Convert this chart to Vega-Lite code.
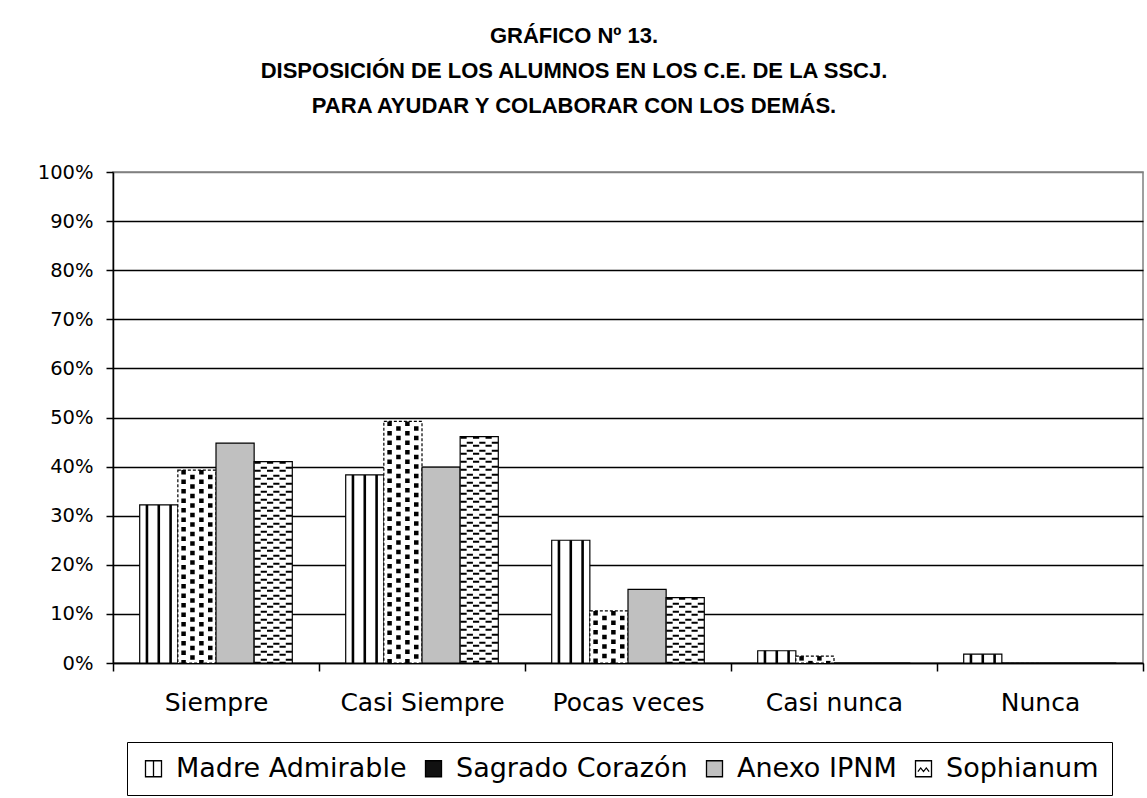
{
  "$schema": "https://vega.github.io/schema/vega-lite/v6.json",
  "autosize": {"type": "none"},
  "padding": {"left": 113, "top": 172, "right": 4, "bottom": 135},
  "width": 1030,
  "height": 491,
  "background": "white",
  "title": {
    "text": ["GRÁFICO Nº 13.", "DISPOSICIÓN DE LOS ALUMNOS EN LOS C.E. DE LA SSCJ.", "PARA AYUDAR Y COLABORAR CON LOS DEMÁS."],
    "font": "Liberation Sans", "fontSize": 22, "fontWeight": "bold", "color": "black",
    "lineHeight": 35, "anchor": "middle", "frame": "group", "dx": -54, "offset": 44
  },
  "data": {"values": [
    {"cat": "Siempre", "series": "Madre Admirable", "value": 32.2},
    {"cat": "Siempre", "series": "Sagrado Corazón", "value": 39.3},
    {"cat": "Siempre", "series": "Anexo IPNM", "value": 44.8},
    {"cat": "Siempre", "series": "Sophianum", "value": 41.0},
    {"cat": "Casi Siempre", "series": "Madre Admirable", "value": 38.3},
    {"cat": "Casi Siempre", "series": "Sagrado Corazón", "value": 49.2},
    {"cat": "Casi Siempre", "series": "Anexo IPNM", "value": 39.9},
    {"cat": "Casi Siempre", "series": "Sophianum", "value": 46.1},
    {"cat": "Pocas veces", "series": "Madre Admirable", "value": 25.0},
    {"cat": "Pocas veces", "series": "Sagrado Corazón", "value": 10.6},
    {"cat": "Pocas veces", "series": "Anexo IPNM", "value": 15.0},
    {"cat": "Pocas veces", "series": "Sophianum", "value": 13.3},
    {"cat": "Casi nunca", "series": "Madre Admirable", "value": 2.5},
    {"cat": "Casi nunca", "series": "Sagrado Corazón", "value": 1.4},
    {"cat": "Casi nunca", "series": "Anexo IPNM", "value": 0},
    {"cat": "Casi nunca", "series": "Sophianum", "value": 0},
    {"cat": "Nunca", "series": "Madre Admirable", "value": 1.8},
    {"cat": "Nunca", "series": "Sagrado Corazón", "value": 0},
    {"cat": "Nunca", "series": "Anexo IPNM", "value": 0},
    {"cat": "Nunca", "series": "Sophianum", "value": 0}
  ]},
  "encoding": {
    "y": {"field": "value", "type": "quantitative", "scale": {"domain": [0, 100], "nice": false},
      "axis": {"title": null, "values": [0, 10, 20, 30, 40, 50, 60, 70, 80, 90, 100], "labelExpr": "datum.value + '%'",
        "tickSize": 7, "labelPadding": 13, "labelFontSize": 19.5, "grid": true,
        "gridColor": {"condition": {"test": "datum.value === 100", "value": "#808080"}, "value": "#000000"}, "gridWidth": 1.5}}
  },
  "layer": [
    {
      "mark": {"type": "bar", "stroke": "black", "strokeWidth": 1.2},
      "encoding": {
        "x": {"field": "cat", "type": "nominal", "sort": ["Siempre", "Casi Siempre", "Pocas veces", "Casi nunca", "Nunca"],
          "scale": {"paddingInner": 0, "paddingOuter": 0},
          "axis": {"title": null, "labelAngle": 0, "tickBand": "extent", "tickSize": 8, "labelPadding": 19, "labelFontSize": 25, "grid": false}},
        "xOffset": {"field": "series", "type": "nominal", "scale": {"domain": ["Madre Admirable", "Sagrado Corazón", "Anexo IPNM", "Sophianum"], "paddingInner": 0, "paddingOuter": 0.7}},
        "fill": {"condition": {"test": "datum.series === 'Anexo IPNM'", "value": "#c0c0c0"}, "value": "#ffffff"},
        "strokeDash": {"condition": {"test": "datum.series === 'Sagrado Corazón'", "value": [3, 2]}, "value": [1, 0]}
      }
    },
    {"transform": [{"filter": "datum.series === 'Madre Admirable'"}],
     "mark": {"type": "rule", "color": "black", "strokeWidth": 2.6},
     "encoding": {"x": {"field": "cat", "type": "nominal", "sort": ["Siempre", "Casi Siempre", "Pocas veces", "Casi nunca", "Nunca"], "bandPosition": 0.1648}, "y2": {"datum": 0}}},
    {"transform": [{"filter": "datum.series === 'Madre Admirable'"}],
     "mark": {"type": "rule", "color": "black", "strokeWidth": 2.6},
     "encoding": {"x": {"field": "cat", "type": "nominal", "sort": ["Siempre", "Casi Siempre", "Pocas veces", "Casi nunca", "Nunca"], "bandPosition": 0.2222}, "y2": {"datum": 0}}},
    {"transform": [{"filter": "datum.series === 'Madre Admirable'"}],
     "mark": {"type": "rule", "color": "black", "strokeWidth": 2.6},
     "encoding": {"x": {"field": "cat", "type": "nominal", "sort": ["Siempre", "Casi Siempre", "Pocas veces", "Casi nunca", "Nunca"], "bandPosition": 0.2796}, "y2": {"datum": 0}}},

    {"transform": [{"filter": "datum.series === 'Sagrado Corazón'"}],
     "mark": {"type": "rule", "color": "black", "strokeWidth": 4.5, "strokeDash": [4.5, 5], "strokeDashOffset": 0},
     "encoding": {"x": {"field": "cat", "type": "nominal", "sort": ["Siempre", "Casi Siempre", "Pocas veces", "Casi nunca", "Nunca"], "bandPosition": 0.3426}, "y2": {"datum": 0}}},
    {"transform": [{"filter": "datum.series === 'Sagrado Corazón'"}],
     "mark": {"type": "rule", "color": "black", "strokeWidth": 4.5, "strokeDash": [4.5, 5], "strokeDashOffset": 4.75},
     "encoding": {"x": {"field": "cat", "type": "nominal", "sort": ["Siempre", "Casi Siempre", "Pocas veces", "Casi nunca", "Nunca"], "bandPosition": 0.3857}, "y2": {"datum": 0}}},
    {"transform": [{"filter": "datum.series === 'Sagrado Corazón'"}],
     "mark": {"type": "rule", "color": "black", "strokeWidth": 4.5, "strokeDash": [4.5, 5], "strokeDashOffset": 0},
     "encoding": {"x": {"field": "cat", "type": "nominal", "sort": ["Siempre", "Casi Siempre", "Pocas veces", "Casi nunca", "Nunca"], "bandPosition": 0.4291}, "y2": {"datum": 0}}},
    {"transform": [{"filter": "datum.series === 'Sagrado Corazón'"}],
     "mark": {"type": "rule", "color": "black", "strokeWidth": 4.5, "strokeDash": [4.5, 5], "strokeDashOffset": 4.75},
     "encoding": {"x": {"field": "cat", "type": "nominal", "sort": ["Siempre", "Casi Siempre", "Pocas veces", "Casi nunca", "Nunca"], "bandPosition": 0.4722}, "y2": {"datum": 0}}},

    {"transform": [{"filter": "datum.series === 'Sophianum'"}],
     "mark": {"type": "rule", "color": "black", "strokeWidth": 6.2, "strokeDash": [2, 6], "strokeDashOffset": 0},
     "encoding": {"x": {"field": "cat", "type": "nominal", "sort": ["Siempre", "Casi Siempre", "Pocas veces", "Casi nunca", "Nunca"], "bandPosition": 0.7018}, "y2": {"datum": 0}}},
    {"transform": [{"filter": "datum.series === 'Sophianum'"}],
     "mark": {"type": "rule", "color": "black", "strokeWidth": 6.2, "strokeDash": [2, 6], "strokeDashOffset": 3},
     "encoding": {"x": {"field": "cat", "type": "nominal", "sort": ["Siempre", "Casi Siempre", "Pocas veces", "Casi nunca", "Nunca"], "bandPosition": 0.7322}, "y2": {"datum": 0}}},
    {"transform": [{"filter": "datum.series === 'Sophianum'"}],
     "mark": {"type": "rule", "color": "black", "strokeWidth": 6.2, "strokeDash": [2, 6], "strokeDashOffset": 0},
     "encoding": {"x": {"field": "cat", "type": "nominal", "sort": ["Siempre", "Casi Siempre", "Pocas veces", "Casi nunca", "Nunca"], "bandPosition": 0.7626}, "y2": {"datum": 0}}},
    {"transform": [{"filter": "datum.series === 'Sophianum'"}],
     "mark": {"type": "rule", "color": "black", "strokeWidth": 6.2, "strokeDash": [2, 6], "strokeDashOffset": 3},
     "encoding": {"x": {"field": "cat", "type": "nominal", "sort": ["Siempre", "Casi Siempre", "Pocas veces", "Casi nunca", "Nunca"], "bandPosition": 0.7930}, "y2": {"datum": 0}}},
    {"transform": [{"filter": "datum.series === 'Sophianum'"}],
     "mark": {"type": "rule", "color": "black", "strokeWidth": 6.2, "strokeDash": [2, 6], "strokeDashOffset": 0},
     "encoding": {"x": {"field": "cat", "type": "nominal", "sort": ["Siempre", "Casi Siempre", "Pocas veces", "Casi nunca", "Nunca"], "bandPosition": 0.8234}, "y2": {"datum": 0}}},
    {"transform": [{"filter": "datum.series === 'Sophianum'"}],
     "mark": {"type": "rule", "color": "black", "strokeWidth": 6.2, "strokeDash": [2, 6], "strokeDashOffset": 3},
     "encoding": {"x": {"field": "cat", "type": "nominal", "sort": ["Siempre", "Casi Siempre", "Pocas veces", "Casi nunca", "Nunca"], "bandPosition": 0.8537}, "y2": {"datum": 0}}},

    {"mark": {"type": "point", "filled": true, "opacity": 0, "stroke": "black", "strokeWidth": 1.3},
     "encoding": {
       "x": {"field": "cat", "type": "nominal", "sort": ["Siempre", "Casi Siempre", "Pocas veces", "Casi nunca", "Nunca"]},
       "fill": {"field": "series", "type": "nominal",
         "scale": {"domain": ["Madre Admirable", "Sagrado Corazón", "Anexo IPNM", "Sophianum"], "range": ["#ffffff", "#111111", "#c0c0c0", "#ffffff"]},
         "legend": {"title": null, "orient": "none", "legendX": 14, "legendY": 570, "direction": "horizontal",
           "labelFontSize": 27, "labelFont": "DejaVu Sans", "labelColor": "black", "labelLimit": 400,
           "symbolSize": 256, "symbolStrokeWidth": 1.3, "symbolOpacity": 1,
           "strokeColor": "black", "padding": 13, "columnPadding": 13, "labelOffset": 9}},
       "shape": {"field": "series", "type": "nominal",
         "scale": {"domain": ["Madre Admirable", "Sagrado Corazón", "Anexo IPNM", "Sophianum"],
           "range": ["M-1,-1H1V1H-1ZM0,-1V1", "square", "square", "M-1,-1H1V1H-1ZM-0.7,0.35L-0.35,-0.1L0,0.35L0.35,-0.1L0.7,0.35"]},
         "legend": {"title": null, "orient": "none", "legendX": 14, "legendY": 570, "direction": "horizontal",
           "labelFontSize": 27, "labelFont": "DejaVu Sans", "labelColor": "black", "labelLimit": 400,
           "symbolSize": 256, "symbolStrokeWidth": 1.3, "symbolOpacity": 1,
           "strokeColor": "black", "padding": 13, "columnPadding": 13, "labelOffset": 9}}
     }}
  ],
  "config": {
    "font": "DejaVu Sans",
    "view": {"stroke": "#808080", "strokeWidth": 1.5},
    "axis": {"labelFont": "DejaVu Sans", "labelColor": "black", "tickColor": "black", "domainColor": "black", "domainWidth": 1.5, "tickWidth": 1.5}
  }
}
